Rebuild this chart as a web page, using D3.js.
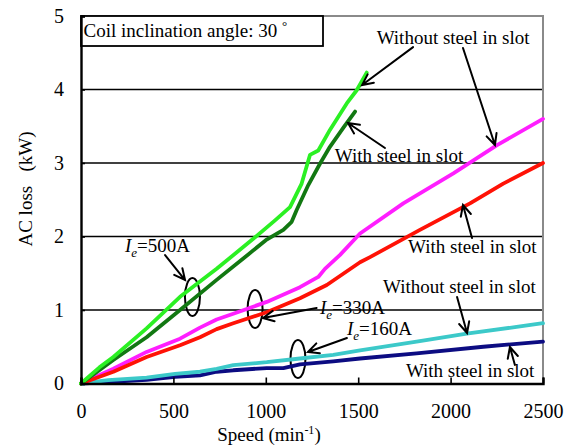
<!DOCTYPE html>
<html>
<head>
<meta charset="utf-8">
<script src="https://cdn.jsdelivr.net/npm/d3@7"></script>
<style>
  body { margin: 0; background: #fff; }
  svg { display: block; font-family: "Liberation Serif", "Times New Roman", serif; }
</style>
</head>
<body>
<svg id="chart" width="575" height="447"></svg>
<script>
// Measured AC loss curves: [speed (min^-1), loss (kW)]
const ie500Without = [[0,0],[100,0.22],[175,0.36],[355,0.75],[536,1.18],[734,1.56],[942,1.99],[1050,2.22],[1131,2.40],[1194,2.72],[1239,3.11],[1284,3.17],[1347,3.45],[1438,3.81],[1492,3.99],[1546,4.23]];
const ie500With    = [[0,0],[175,0.32],[355,0.63],[536,1.00],[734,1.41],[878,1.70],[1000,1.95],[1095,2.09],[1140,2.20],[1167,2.36],[1230,2.70],[1293,2.99],[1347,3.22],[1420,3.48],[1483,3.70]];
const ie330Without = [[0,0],[175,0.20],[355,0.43],[536,0.61],[644,0.76],[734,0.87],[824,0.95],[1005,1.11],[1185,1.31],[1284,1.45],[1320,1.56],[1402,1.75],[1510,2.04],[1744,2.45],[2015,2.86],[2249,3.24],[2500,3.60]];
const ie330With    = [[0,0],[175,0.16],[355,0.36],[536,0.52],[644,0.63],[734,0.74],[824,0.82],[1005,0.97],[1185,1.16],[1330,1.34],[1510,1.65],[1564,1.72],[1834,2.09],[2105,2.45],[2285,2.72],[2500,3.00]];
const ie160Without = [[0,0],[148,0.045],[355,0.08],[509,0.13],[644,0.16],[734,0.20],[824,0.25],[1005,0.29],[1185,0.34],[1365,0.39],[1510,0.45],[1816,0.57],[2087,0.68],[2357,0.77],[2500,0.82]];
const ie160With    = [[0,0],[355,0.05],[509,0.09],[644,0.11],[734,0.16],[824,0.18],[1005,0.21],[1095,0.21],[1185,0.26],[1365,0.30],[1510,0.34],[1816,0.41],[2177,0.50],[2500,0.57]];

const xTicks = [0, 500, 1000, 1500, 2000, 2500];
const yTicks = [0, 1, 2, 3, 4, 5];
const gridValues = [1, 2, 3, 4];

const seriesList = [
  { data: ie160With,    color: "#0c0c82" },
  { data: ie160Without, color: "#3cc9c9" },
  { data: ie330Without, color: "#ff1eff" },
  { data: ie330With,    color: "#ff1206" },
  { data: ie500With,    color: "#127812" },
  { data: ie500Without, color: "#2bf023" }
];

// Text labels with arrows, positioned in data units
const slotLabels = [
  { text: "Without steel in slot", at: [1600, 4.62] },
  { text: "With steel in slot",    at: [1373, 3.01] },
  { text: "With steel in slot",    at: [1770, 1.77] },
  { text: "Without steel in slot", at: [1634, 1.23] },
  { text: "With steel in slot",    at: [1758, 0.085] }
];
const arrows = [
  { from: [1797, 4.576], to: [1521, 4.061] },
  { from: [2067, 4.565], to: [2240, 3.245] },
  { from: [1645, 3.204], to: [1445, 3.544] },
  { from: [2116, 1.980], to: [2067, 2.429] },
  { from: [2035, 1.177], to: [2089, 0.687] },
  { from: [2348, 0.252], to: [2321, 0.497] },
  { from: [455, 1.748],  to: [563, 1.408] },
  { from: [1275, 1.027], to: [985, 0.891] },
  { from: [1439, 0.619], to: [1228, 0.429] }
];
const currentLabels = [
  { value: "500A", at: [238, 1.79] },
  { value: "330A", at: [1293, 0.945] },
  { value: "160A", at: [1439, 0.66] }
];
const loops = [ [603, 1.177], [942, 1.014], [1174, 0.333] ];

const svg = d3.select("#chart");
const margin = { left: 81, right: 32, top: 16, bottom: 63.5 };
const W = 575, H = 447;

const x = d3.scaleLinear().domain([0, 2500]).range([margin.left, W - margin.right]);
const y = d3.scaleLinear().domain([0, 5]).range([H - margin.bottom, margin.top]);

// Grid lines
svg.append("g").selectAll("line").data(gridValues).join("line")
  .attr("x1", x(0)).attr("x2", x(2500))
  .attr("y1", d => y(d)).attr("y2", d => y(d))
  .attr("stroke", "#000").attr("stroke-width", 1.6);

// Frame: grey top and right edges
svg.append("path")
  .attr("d", `M${x(0)},${y(5)}H${x(2500)}V${y(0)}`)
  .attr("fill", "none").attr("stroke", "#8a8a8a").attr("stroke-width", 2);

// Title box
svg.append("rect")
  .attr("x", x(0)).attr("y", y(5))
  .attr("width", 242).attr("height", 30)
  .attr("fill", "#fff").attr("stroke", "#000").attr("stroke-width", 1.8);
const boxText = svg.append("text")
  .attr("x", x(0) + 2.5).attr("y", y(5) + 20.5)
  .attr("font-size", 19).attr("fill", "#000");
boxText.append("tspan").text("Coil inclination angle: 30 ");
boxText.append("tspan").attr("font-size", 13).attr("dy", -7).text("°");

// Loops around curve pairs
svg.append("g").selectAll("ellipse").data(loops).join("ellipse")
  .attr("cx", d => x(d[0])).attr("cy", d => y(d[1]))
  .attr("rx", 7.5).attr("ry", 19)
  .attr("fill", "none").attr("stroke", "#000").attr("stroke-width", 2);

// Curves
const line = d3.line().x(d => x(d[0])).y(d => y(d[1]));
svg.append("g").selectAll("path").data(seriesList).join("path")
  .attr("d", d => line(d.data))
  .attr("fill", "none")
  .attr("stroke", d => d.color)
  .attr("stroke-width", 3.8)
  .attr("stroke-linejoin", "round")
  .attr("stroke-linecap", "round");

// Axes: left and bottom in black with inward ticks
const xAxis = d3.axisBottom(x).tickValues(xTicks).tickSize(-6).tickPadding(20).tickFormat(d3.format("d"));
const gx = svg.append("g").attr("transform", `translate(0,${y(0)})`).call(xAxis);
gx.select(".domain").attr("stroke", "#000").attr("stroke-width", 2.4);
gx.selectAll(".tick line").attr("stroke", "#000").attr("stroke-width", 1.6);
gx.selectAll(".tick text").attr("font-size", 20).attr("font-family", "Liberation Serif").attr("fill", "#000");

const yAxis = d3.axisLeft(y).tickValues(yTicks).tickSize(-4).tickPadding(17).tickFormat(d3.format("d"));
const gy = svg.append("g").attr("transform", `translate(${x(0)},0)`).call(yAxis);
gy.select(".domain").attr("stroke", "#000").attr("stroke-width", 2.4);
gy.selectAll(".tick line").attr("stroke", "#000").attr("stroke-width", 1.6);
gy.selectAll(".tick text").attr("font-size", 20).attr("font-family", "Liberation Serif").attr("fill", "#000");
gy.selectAll(".tick").filter(d => d === 0).select("line").remove();

// Axis titles
const xTitle = svg.append("text")
  .attr("x", 269).attr("y", 441)
  .attr("text-anchor", "middle").attr("font-size", 19);
xTitle.append("tspan").text("Speed (min");
xTitle.append("tspan").attr("font-size", 12).attr("dy", -7).text("-1");
xTitle.append("tspan").attr("dy", 7).text(")");

svg.append("text")
  .attr("transform", "translate(32,189) rotate(-90)")
  .attr("text-anchor", "middle").attr("font-size", 19)
  .style("white-space", "pre")
  .text("AC loss   (kW)");

// Arrows with open heads
const arrowG = svg.append("g").attr("stroke", "#000").attr("stroke-width", 2).attr("fill", "none")
  .attr("stroke-linecap", "round");
arrows.forEach(a => {
  const x1 = x(a.from[0]), y1 = y(a.from[1]), x2 = x(a.to[0]), y2 = y(a.to[1]);
  const ang = Math.atan2(y2 - y1, x2 - x1);
  const len = 12, spread = 0.45;
  const h1 = [x2 - len * Math.cos(ang - spread), y2 - len * Math.sin(ang - spread)];
  const h2 = [x2 - len * Math.cos(ang + spread), y2 - len * Math.sin(ang + spread)];
  arrowG.append("path").attr("d", `M${x1},${y1}L${x2},${y2}M${h1[0]},${h1[1]}L${x2},${y2}L${h2[0]},${h2[1]}`);
});

// Slot labels
svg.append("g").selectAll("text").data(slotLabels).join("text")
  .attr("x", d => x(d.at[0])).attr("y", d => y(d.at[1]))
  .attr("font-size", 19).attr("fill", "#000")
  .text(d => d.text);

// Excitation current labels
currentLabels.forEach(c => {
  const t = svg.append("text")
    .attr("x", x(c.at[0])).attr("y", y(c.at[1]))
    .attr("font-size", 19).attr("fill", "#000");
  t.append("tspan").attr("font-style", "italic").text("I");
  t.append("tspan").attr("font-style", "italic").attr("font-size", 13).attr("dy", 5).text("e");
  t.append("tspan").attr("dy", -5).text("=" + c.value);
});
</script>
</body>
</html>
